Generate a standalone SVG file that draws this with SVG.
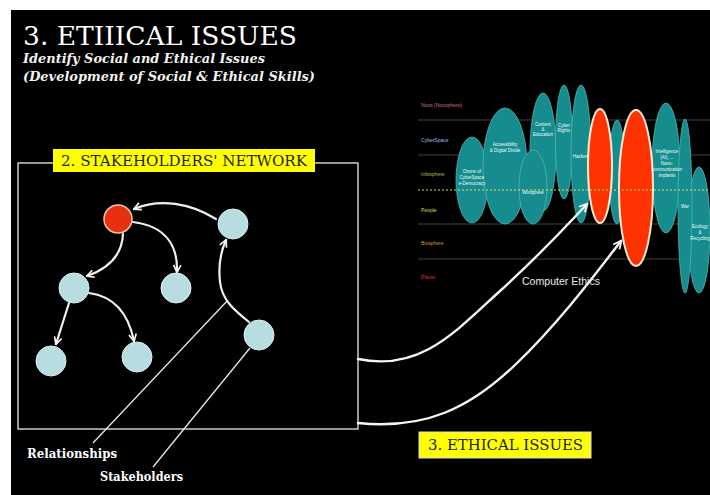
<svg xmlns="http://www.w3.org/2000/svg" width="710" height="495" viewBox="0 0 710 495">
<defs>
<style>
.ttl{font-family:"DejaVu Serif","Liberation Serif",serif;fill:#fff}
.sub{font-family:"DejaVu Serif","Liberation Serif",serif;font-style:italic;font-weight:bold;fill:#f2f2f2;font-size:12px}
.tag{font-family:"DejaVu Serif","Liberation Serif",serif;fill:#222;font-size:14px}
.lbl{font-family:"DejaVu Serif","Liberation Serif",serif;fill:#fff;font-size:12px;font-weight:bold}
.row{font-family:"Liberation Sans",Arial,sans-serif;font-size:5px}
.tiny{font-family:"Liberation Sans",Arial,sans-serif;font-size:4.5px;fill:#e8ffff;text-anchor:middle}
.teal{fill:#178c8e;stroke:#4cb8b4;stroke-width:0.8}
.red{fill:#ff3300;stroke:#ffe8d0;stroke-width:2}
.node{fill:#b8dde0;stroke:#d8eef0;stroke-width:1}
.rnode{fill:#e83010;stroke:#f0c0b0;stroke-width:1.5}
.edge{fill:none;stroke:#f0f0f0;stroke-width:2.2;stroke-linecap:round}
.big{fill:none;stroke:#f4f4f4;stroke-width:2.4;stroke-linecap:round}
.call{fill:none;stroke:#e8e8e8;stroke-width:1.3}
.hl{stroke:#4a4a4a;stroke-width:0.9}
</style>
<marker id="arr" viewBox="0 0 10 10" refX="8.5" refY="5" markerWidth="4.2" markerHeight="4.2" orient="auto">
<path d="M1,1 L9,5 L1,9" fill="none" stroke="#f4f4f4" stroke-width="1.8"/>
</marker>
</defs>
<rect x="0" y="0" width="710" height="495" fill="#fff"/>
<rect x="11" y="10" width="699" height="485" fill="#000"/>

<g id="title">
<text class="ttl" x="23" y="45" font-size="26" textLength="274" lengthAdjust="spacingAndGlyphs">3. ETIIICAL ISSUES</text>
<text class="sub" x="23" y="63" textLength="242" lengthAdjust="spacingAndGlyphs">Identify Social and Ethical Issues</text>
<text class="sub" x="23" y="81" textLength="292" lengthAdjust="spacingAndGlyphs">(Development of Social &amp; Ethical Skills)</text>
</g>

<g id="spheres">
<line class="hl" x1="418" y1="120" x2="710" y2="120"/>
<line class="hl" x1="418" y1="155" x2="710" y2="155"/>
<line class="hl" x1="418" y1="224" x2="710" y2="224"/>
<line class="hl" x1="418" y1="259" x2="710" y2="259"/>
<text class="row" x="421" y="107" fill="#c86a96">Noos (Noosphere)</text>
<text class="row" x="421" y="142" fill="#8ec0ee">CyberSpace</text>
<text class="row" x="421" y="176" fill="#a8c848">Infosphere</text>
<text class="row" x="421" y="212" fill="#d8d848">People</text>
<text class="row" x="421" y="245" fill="#d89430">Biosphere</text>
<text class="row" x="421" y="279" fill="#e03020">Planet</text>
</g>

<g id="ellipses">
<ellipse class="teal" cx="543" cy="152" rx="13" ry="59"/>
<ellipse class="teal" cx="564" cy="142" rx="8.5" ry="57"/>
<ellipse class="teal" cx="581" cy="154" rx="10" ry="69"/>
<ellipse class="teal" cx="472" cy="180" rx="16" ry="43"/>
<ellipse class="teal" cx="505" cy="166" rx="22" ry="58"/>
<ellipse class="teal" cx="533" cy="187" rx="14" ry="37"/>
<ellipse class="teal" cx="617" cy="172" rx="8" ry="52"/>
<ellipse class="teal" cx="666" cy="168" rx="14" ry="65"/>
<ellipse class="teal" cx="699" cy="230" rx="11" ry="63"/>
<ellipse class="teal" cx="685" cy="206" rx="7" ry="87"/>
<ellipse class="red" cx="600" cy="166" rx="12" ry="57"/>
<ellipse class="red" cx="636" cy="188" rx="17" ry="78"/>
<text class="tiny" x="472" y="173">Ozone of</text>
<text class="tiny" x="472" y="179">CyberSpace</text>
<text class="tiny" x="472" y="185">e-Democracy</text>
<text class="tiny" x="505" y="146">Accessibility</text>
<text class="tiny" x="505" y="152">&amp; Digital Divide</text>
<text class="tiny" x="533" y="194">Wordpress</text>
<text class="tiny" x="543" y="126">Content</text>
<text class="tiny" x="543" y="131">&amp;</text>
<text class="tiny" x="543" y="136">Education</text>
<text class="tiny" x="564" y="127">Cyber</text>
<text class="tiny" x="564" y="132">Rights</text>
<text class="tiny" x="581" y="158">Hackers</text>
<text class="tiny" x="667" y="153">Intelligence</text>
<text class="tiny" x="667" y="159">(AI), ...</text>
<text class="tiny" x="667" y="165">Nano-</text>
<text class="tiny" x="667" y="171">communication</text>
<text class="tiny" x="667" y="177">implants</text>
<text class="tiny" x="685" y="208">War</text>
<text class="tiny" x="700" y="228">Ecology</text>
<text class="tiny" x="700" y="234">&amp;</text>
<text class="tiny" x="700" y="240">Recycling</text>
<line x1="418" y1="190" x2="710" y2="190" stroke="#d8e070" stroke-width="1" stroke-dasharray="2,2"/>
</g>

<g id="network-box">
<rect x="18" y="163" width="340" height="266" fill="none" stroke="#e8e8e8" stroke-width="1.3"/>
<rect x="53" y="149" width="262" height="23" fill="#ffff00"/>
<text class="tag" x="61" y="166" textLength="246" lengthAdjust="spacingAndGlyphs">2. STAKEHOLDERS' NETWORK</text>
</g>

<g id="connectors">
<path class="edge" d="M 216 219 C 190 203, 160 198, 134 209" marker-end="url(#arr)"/>
<path class="edge" d="M 133 222 C 165 226, 178 245, 177 272" marker-end="url(#arr)"/>
<path class="edge" d="M 123 234 C 122 255, 110 268, 87 276" marker-end="url(#arr)"/>
<path class="edge" d="M 69 303 L 56 344" marker-end="url(#arr)"/>
<path class="edge" d="M 89 293 C 112 296, 128 312, 134 341" marker-end="url(#arr)"/>
<path class="edge" d="M 249 322 C 234 310, 222 300, 220 282 C 218 264, 221 251, 226 240" marker-end="url(#arr)"/>
<path class="call" d="M 228 300 L 93 443"/>
<path class="call" d="M 250 348 L 153 467"/>
<path class="big" d="M 358 359 C 420 372, 455 332, 500 291 S 570 222, 587 204" marker-end="url(#arr)"/>
<path class="big" d="M 358 423 C 425 430, 470 408, 515 365 S 600 268, 621 241" marker-end="url(#arr)"/>
</g>

<g id="node-red"><circle class="rnode" cx="118" cy="219" r="14"/></g>
<g id="node-top-right"><circle class="node" cx="233" cy="224" r="15"/></g>
<g id="node-mid-left"><circle class="node" cx="74" cy="288" r="15"/></g>
<g id="node-mid-center"><circle class="node" cx="176" cy="288" r="15"/></g>
<g id="node-bottom-left"><circle class="node" cx="51" cy="361" r="15"/></g>
<g id="node-bottom-center"><circle class="node" cx="137" cy="357" r="15"/></g>
<g id="node-right"><circle class="node" cx="259" cy="335" r="15"/></g>

<g id="labels">
<text class="lbl" x="27" y="458" textLength="90" lengthAdjust="spacingAndGlyphs">Relationships</text>
<text class="lbl" x="100" y="481" textLength="83" lengthAdjust="spacingAndGlyphs">Stakeholders</text>
<text x="522" y="285" font-family="Liberation Sans,Arial,sans-serif" font-size="10.5" fill="#e8e8e8" textLength="78" lengthAdjust="spacingAndGlyphs">Computer Ethics</text>
</g>

<g id="ethical-issues">
<rect x="419" y="432" width="172" height="26" fill="#ffff00" stroke="#dddddd" stroke-width="1"/>
<text class="tag" x="428" y="450" textLength="155" lengthAdjust="spacingAndGlyphs">3. ETHICAL ISSUES</text>
</g>
</svg>
